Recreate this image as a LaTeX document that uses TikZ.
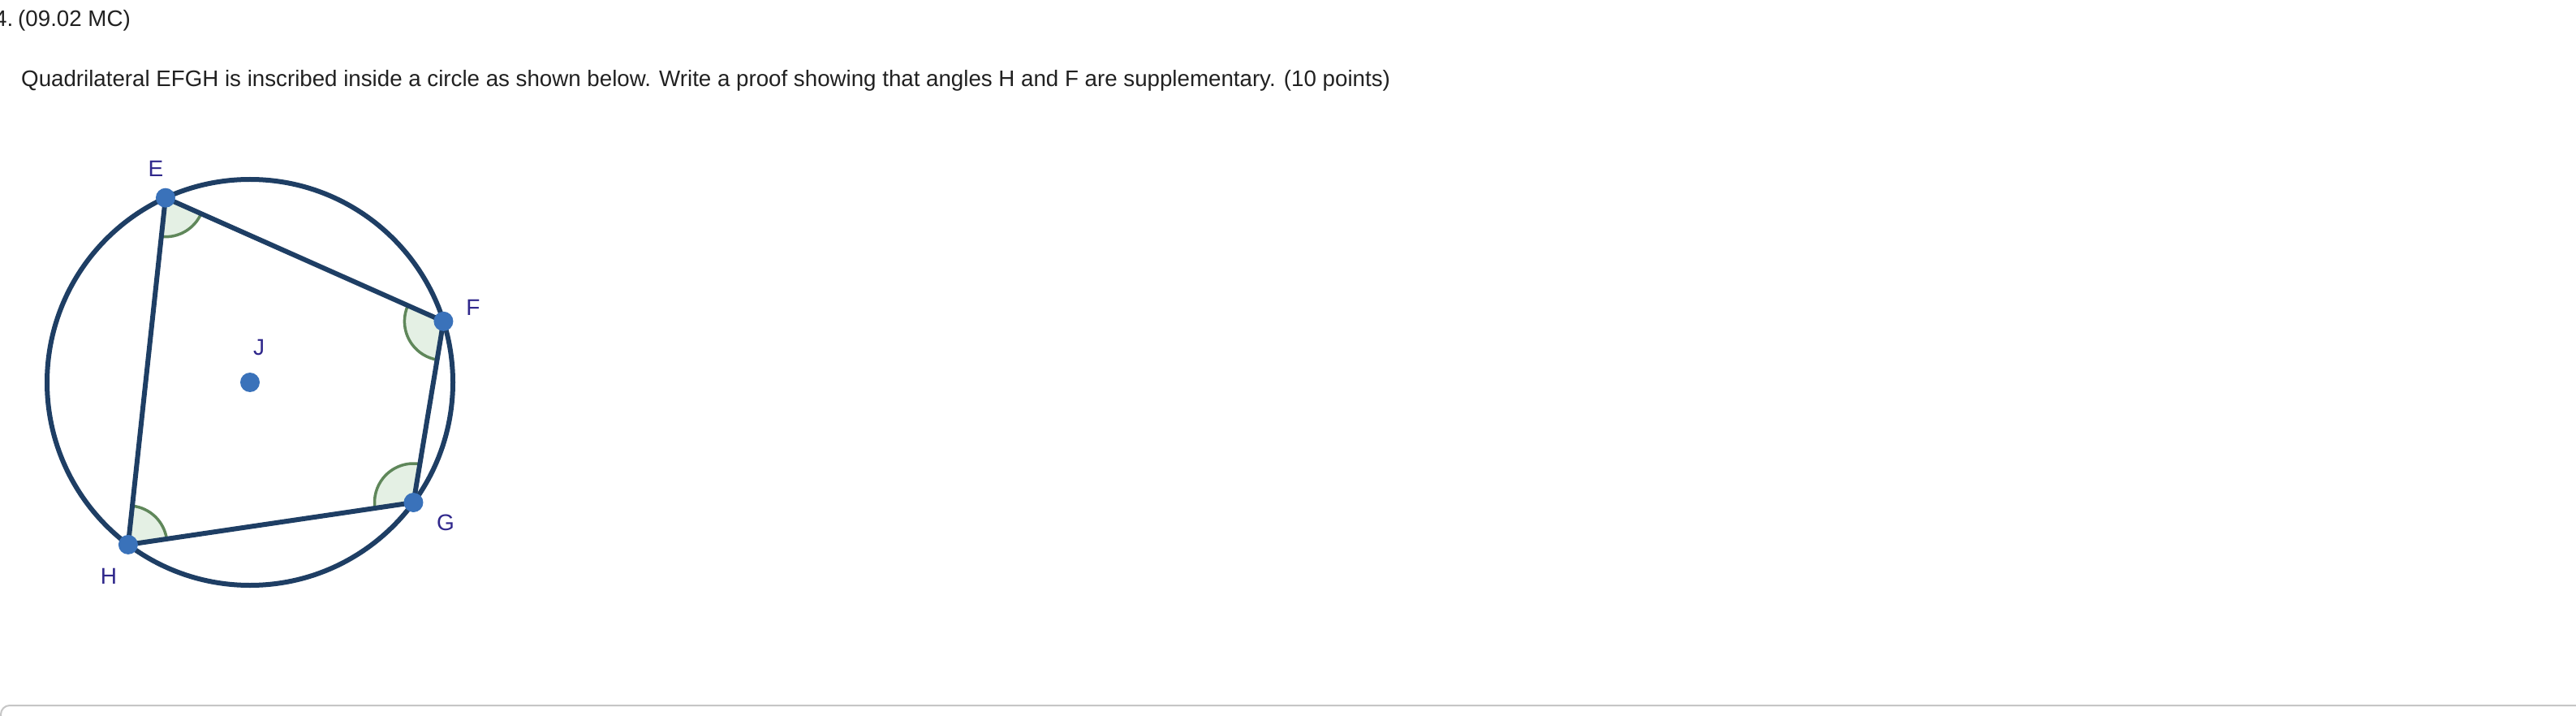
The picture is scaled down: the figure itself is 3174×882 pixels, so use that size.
\documentclass[tikz,border=0pt]{standalone}
\usepackage{fontspec}
\setmainfont{Liberation Sans}
\usetikzlibrary{calc}
\definecolor{txt}{RGB}{33,33,33}
\definecolor{navy}{RGB}{30,62,100}
\definecolor{dotblue}{RGB}{58,114,186}
\definecolor{lab}{RGB}{48,40,140}
\definecolor{angfill}{RGB}{228,240,228}
\definecolor{angdraw}{RGB}{95,135,90}
\definecolor{boxline}{RGB}{198,198,198}
\tikzset{
  edge/.style={draw=navy, line width=6pt, line join=round},
  angsector/.style={draw=angdraw, fill=angfill, line width=3.5pt},
  ptdot/.style={fill=dotblue},
  ptlabel/.style={text=lab, font=\fontsize{28}{28}\selectfont, inner sep=0pt},
  bodytext/.style={text=txt, font=\fontsize{27.7}{28}\selectfont, inner sep=0pt, anchor=base west}
}
\begin{document}
\begin{tikzpicture}[x=1pt,y=1pt]
\useasboundingbox (0,0) rectangle (3174,-882);
\fill[white] (0,0) rectangle (3174,-882);
% text
\node[bodytext, anchor=base east] (num) at (161,-33) {4.\hspace{6pt}(09.02 MC)};
\node[bodytext] (q) at (26,-107) {Quadrilateral EFGH is inscribed inside a circle as shown below. Write a proof showing that angles H and F are supplementary. (10 points)};
% geometry
\coordinate (J) at (308,-471);
\coordinate (E) at ($(J)+(114.6:250)$);
\coordinate (F) at ($(J)+(17.5:250)$);
\coordinate (G) at ($(J)+(-36.3:250)$);
\coordinate (H) at ($(J)+(-126.9:250)$);
% angle marks
\draw[angsector] (E) -- ++(-96.15:48) arc[start angle=-96.15, end angle=-23.95, radius=48] -- cycle;
\draw[angsector] (F) -- ++(156.05:48) arc[start angle=156.05, end angle=260.61, radius=48] -- cycle;
\draw[angsector] (G) -- ++(80.61:48) arc[start angle=80.61, end angle=188.4, radius=48] -- cycle;
\draw[angsector] (H) -- ++(8.4:48) arc[start angle=8.4, end angle=83.85, radius=48] -- cycle;
% circle and quadrilateral
\draw[edge] (J) circle (250);
\draw[edge] (E) -- (F) -- (G) -- (H) -- cycle;
% dots
\foreach \p in {E,F,G,H,J} \fill[ptdot] (\p) circle (12);
% labels
\node[ptlabel] (lE) at (192,-208) {E};
\node[ptlabel] (lF) at (583,-379) {F};
\node[ptlabel] (lJ) at (319,-428) {J};
\node[ptlabel] (lG) at (549,-644) {G};
\node[ptlabel] (lH) at (134,-710) {H};
% bottom box edge
\draw[boxline, line width=2pt, rounded corners=11pt] (1,-920) -- (1,-869) -- (3200,-869);
\end{tikzpicture}
\end{document}
